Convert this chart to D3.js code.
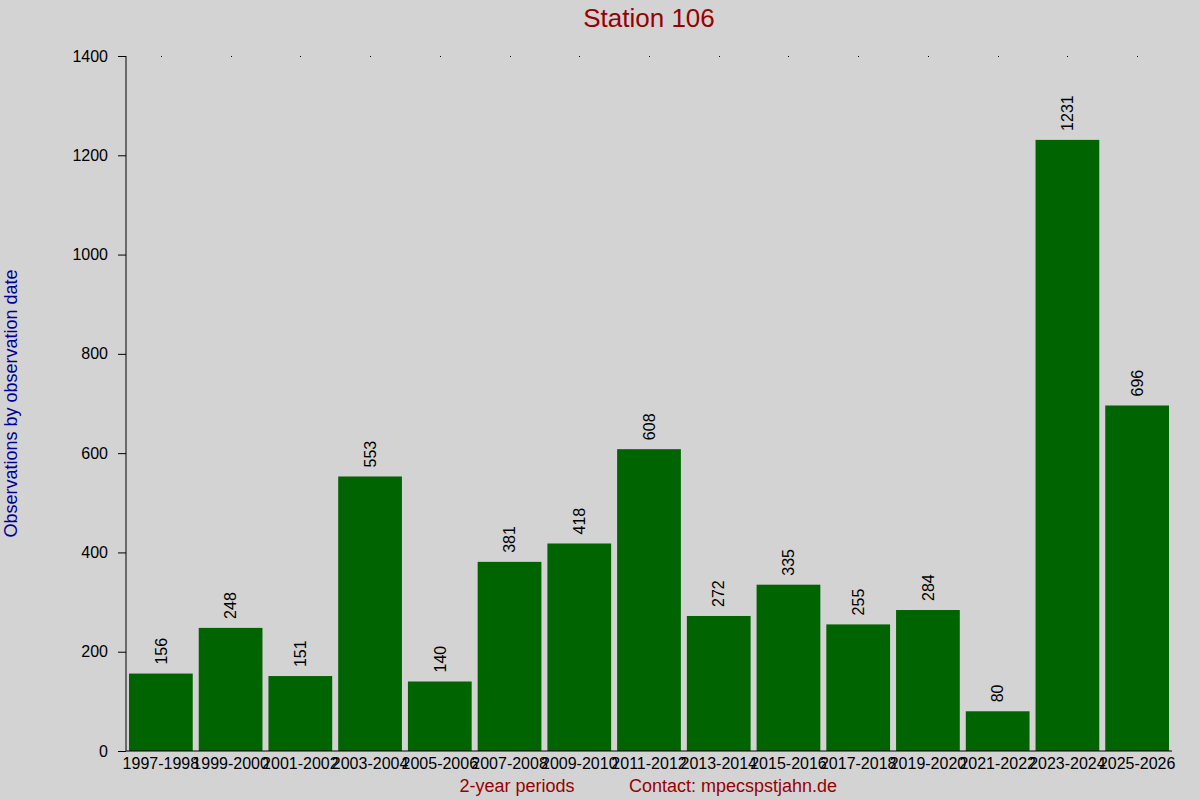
<!DOCTYPE html>
<html>
<head>
<meta charset="utf-8">
<script src="https://cdn.jsdelivr.net/npm/d3@7"></script>
<style>
html,body{margin:0;padding:0;background:#d3d3d3;}
svg{display:block;font-family:"Liberation Sans",Arial,sans-serif;}
</style>
</head>
<body>
<svg id="chart" width="1200" height="800"></svg>
<script>
const categories = ["1997-1998","1999-2000","2001-2002","2003-2004","2005-2006","2007-2008","2009-2010","2011-2012","2013-2014","2015-2016","2017-2018","2019-2020","2021-2022","2023-2024","2025-2026"];
const values = [156,248,151,553,140,381,418,608,272,335,255,284,80,1231,696];
const yTicks = [0,200,400,600,800,1000,1200,1400];
const titleText = "Station 106";
const yTitle = "Observations by observation date";
const xTitle = "2-year periods";
const contactText = "Contact: mpecspstjahn.de";

(function () {
const W = 1200, H = 800;
const pL = 126, pR = 1172, pT = 56, pB = 751;
const svg = d3.select("#chart");
svg.append("rect").attr("width", W).attr("height", H).attr("fill", "#d3d3d3");

const x = d3.scaleBand().domain(categories).range([pL, pR]).paddingInner(0.086).paddingOuter(0.043);
const y = d3.scaleLinear().domain([0, 1400]).range([pB, pT]);

// bars
svg.append("g").selectAll("rect").data(values).join("rect")
  .attr("x", (d, i) => x(categories[i]))
  .attr("y", d => y(d))
  .attr("width", x.bandwidth())
  .attr("height", d => y(0) - y(d))
  .attr("fill", "#006400");

// value labels
svg.append("g").selectAll("text").data(values).join("text")
  .attr("transform", (d, i) => `translate(${x(categories[i]) + x.bandwidth() / 2},${y(d) - 9}) rotate(-90)`)
  .attr("dy", "0.36em")
  .attr("text-anchor", "start")
  .attr("font-size", 16)
  .attr("fill", "#000")
  .text(d => d);

// top dots
svg.append("g").selectAll("rect").data(categories).join("rect")
  .attr("x", d => Math.round(x(d) + x.bandwidth() / 2))
  .attr("y", pT)
  .attr("width", 1).attr("height", 1)
  .attr("fill", "#000");

// y axis
const yAxis = d3.axisLeft(y).tickValues(yTicks).tickSize(8).tickPadding(10).tickFormat(d3.format("d"));
const gy = svg.append("g").attr("transform", `translate(${pL},0)`).call(yAxis);
gy.select(".domain").attr("d", `M0,${pT}V${pB}`).attr("stroke", "#000");
gy.selectAll("text").attr("font-size", 16).attr("font-family", "Liberation Sans, Arial, sans-serif").attr("fill", "#000");
gy.selectAll("line").attr("stroke", "#000");

// x axis
const xAxis = d3.axisBottom(x).tickSize(0).tickPadding(7);
const gx = svg.append("g").attr("transform", `translate(0,${pB})`).call(xAxis);
gx.select(".domain").attr("d", `M${pL},0H${pR}`).attr("stroke", "#000");
gx.selectAll("text").attr("font-size", 16).attr("font-family", "Liberation Sans, Arial, sans-serif").attr("fill", "#000");

// titles
svg.append("text").attr("x", (pL + pR) / 2).attr("y", 27).attr("text-anchor", "middle")
  .attr("font-size", 26).attr("fill", "#990000").text(titleText);
svg.append("text").attr("transform", `translate(17,${(pT + pB) / 2}) rotate(-90)`).attr("text-anchor", "middle")
  .attr("font-size", 18).attr("fill", "#000099").text(yTitle);
svg.append("text").attr("x", 517).attr("y", 792).attr("text-anchor", "middle")
  .attr("font-size", 18).attr("fill", "#990000").text(xTitle);
svg.append("text").attr("x", 733).attr("y", 792).attr("text-anchor", "middle")
  .attr("font-size", 18).attr("fill", "#990000").text(contactText);
})();
</script>
</body>
</html>
